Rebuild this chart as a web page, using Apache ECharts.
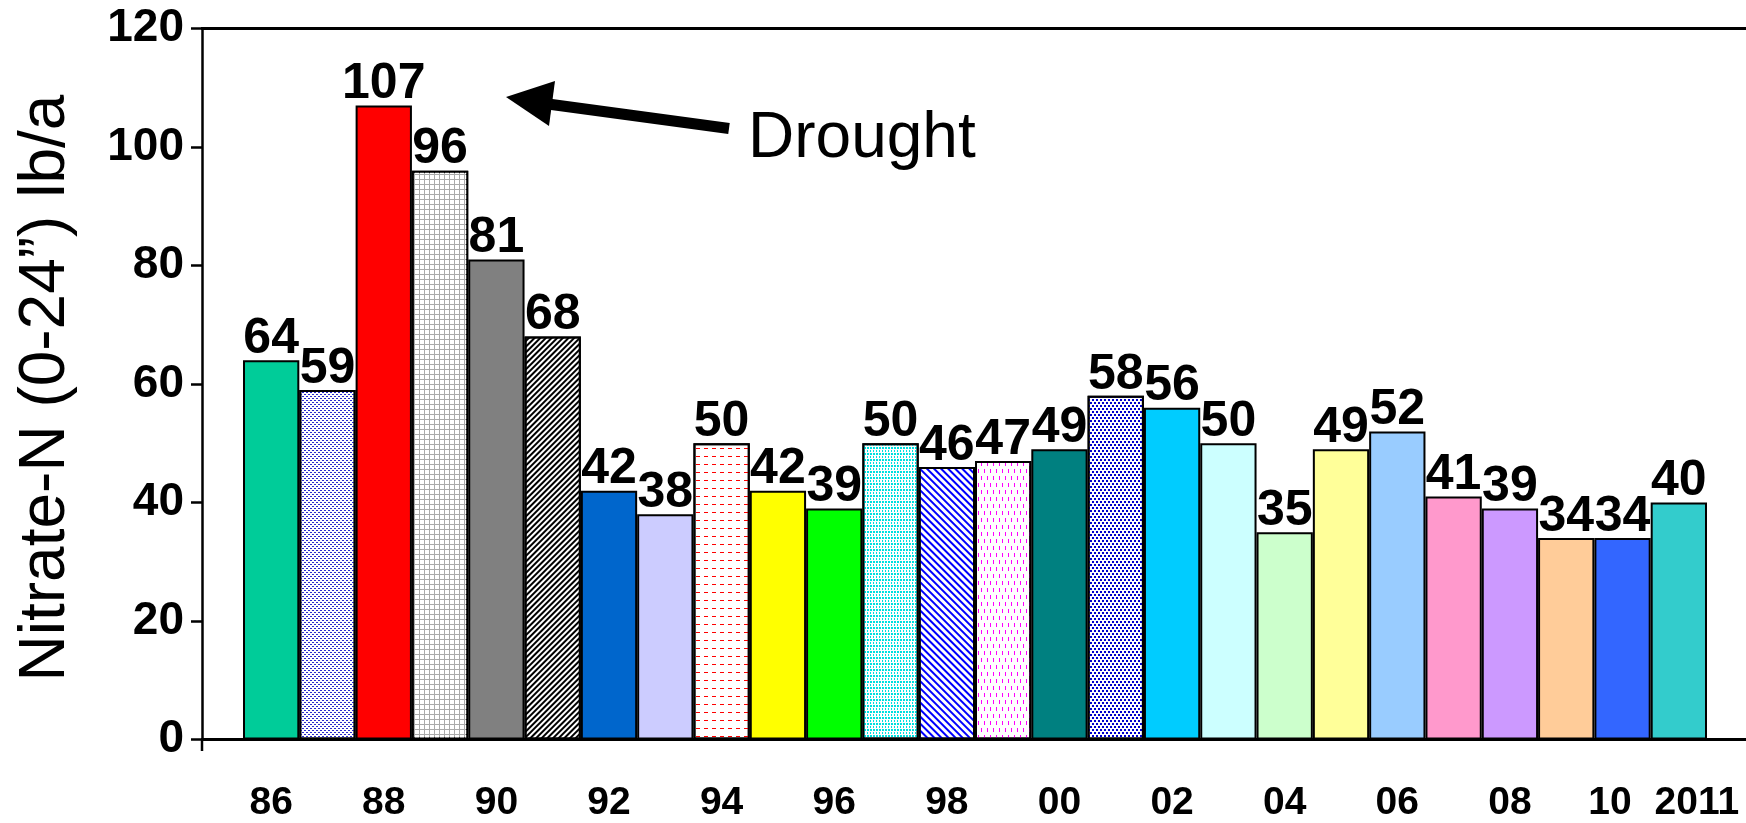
<!DOCTYPE html>
<html>
<head>
<meta charset="utf-8">
<script src="https://cdn.jsdelivr.net/npm/echarts@6/dist/echarts.min.js"></script>
<style>
html,body{margin:0;padding:0;background:#fff;}
#chart{width:1746px;height:823px;}
</style>
</head>
<body>
<div id="chart"></div>
<script>
// ---- data ----
const categories = ['86','87','88','89','90','91','92','93','94','95','96','97','98','99','00','01','02','03','04','05','06','07','08','09','10','2011'];
const values = [64,59,107,96,81,68,42,38,50,42,39,50,46,47,49,58,56,50,35,49,52,41,39,34,34,40];
const yTicks = [0,20,40,60,80,100,120];
const titleText = 'Nitrate-N (0-24\u201d) lb/a';
const noteText = 'Drought';

// ---- styles ----
const barColors = ['#00CC99','#ffffff','#FF0000','#aaaaaa','#808080','#ffffff','#0066CC','#CCCCFF',
  '#ffffff','#FFFF00','#00FF00','#ffffff','#ffffff','#ffffff','#008080','#ffffff','#00CCFF','#CCFFFF',
  '#CCFFCC','#FFFF99','#99CCFF','#FF99CC','#CC99FF','#FFCC99','#3366FF','#33CCCC'];
const barDecals = {
  1: {symbol:'rect', symbolSize:1, color:'#2a2acc', dashArrayX:[[2,2],[0,2,2,0]], dashArrayY:[1,1], rotation:0},
  3: {symbol:'rect', symbolSize:1, color:'#ffffff', dashArrayX:[4,1], dashArrayY:[4,1], rotation:0},
  5: {symbol:'rect', symbolSize:1, color:'#000000', dashArrayX:[1,0], dashArrayY:[2,2], rotation:-Math.PI/4},
  8: {symbol:'rect', symbolSize:1, color:'#ff0000', dashArrayX:[4,4], dashArrayY:[1,7], rotation:0},
  11:{symbol:'rect', symbolSize:1, color:'#00e0e0', dashArrayX:[[2,1],[1,2]], dashArrayY:[2,1], rotation:0},
  12:{symbol:'rect', symbolSize:1, color:'#0000ff', dashArrayX:[1,0], dashArrayY:[2,3], rotation:Math.PI/4},
  13:{symbol:'rect', symbolSize:1, color:'#ff00ff', dashArrayX:[[1,5],[0,3,1,2]], dashArrayY:[4,3], rotation:0},
  15:{symbol:'rect', symbolSize:1, color:'#0000cc', dashArrayX:[[2,2],[0,2,2,0]], dashArrayY:[2,1], rotation:0}
};

const FONT = '"Liberation Sans", Arial, Helvetica, sans-serif';
const chart = echarts.init(document.getElementById('chart'));

const seriesData = values.map((v, i) => {
  const it = {value: v, itemStyle: {color: barColors[i]}};
  if (barDecals[i]) it.itemStyle.decal = barDecals[i];
  return it;
});

chart.setOption({
  animation: false,
  backgroundColor: '#ffffff',
  grid: {left: 243, right: 39, top: 28.5, bottom: 83.5, containLabel: false},
  xAxis: {
    type: 'category',
    data: categories,
    axisLine: {show: false},
    axisTick: {show: false},
    axisLabel: {
      interval: function (i) { return i % 2 === 0 || i === categories.length - 1; },
      color: '#000', fontFamily: FONT, fontWeight: 'bold', fontSize: 39, margin: 44,
      formatter: function (v) {
        if (v === '10') return '{l|' + v + '}';
        if (v === '2011') return '{r|' + v + '}';
        return v;
      },
      rich: {
        l: {fontFamily: FONT, fontWeight: 'bold', fontSize: 39, color: '#000', padding: [0, 25, 0, 0]},
        r: {fontFamily: FONT, fontWeight: 'bold', fontSize: 39, color: '#000', padding: [0, 0, 0, 36]}
      }
    }
  },
  yAxis: {
    type: 'value',
    min: yTicks[0], max: yTicks[yTicks.length - 1], interval: 20,
    offset: 41,
    axisLine: {show: true, lineStyle: {color: '#000', width: 2.5}},
    axisTick: {show: true, inside: false, length: 11, lineStyle: {color: '#000', width: 2.5}},
    splitLine: {show: false},
    axisLabel: {color: '#000', fontFamily: FONT, fontWeight: 'bold', fontSize: 46, margin: 18}
  },
  series: [{
    type: 'bar',
    data: seriesData,
    barCategoryGap: 0,
    barGap: 0,
    itemStyle: {borderColor: '#000', borderWidth: 2},
    label: {
      show: true, position: 'top', distance: -4,
      color: '#000', fontFamily: FONT, fontWeight: 'bold', fontSize: 50
    }
  }],
  graphic: [
    {type: 'line', z: 100, shape: {x1: 201, y1: 739.5, x2: 1746, y2: 739.5}, style: {stroke: '#000', lineWidth: 3}},
    {type: 'line', z: 100, shape: {x1: 202, y1: 739.5, x2: 202, y2: 751}, style: {stroke: '#000', lineWidth: 2.5}},
    {type: 'line', z: 100, shape: {x1: 201, y1: 28.5, x2: 1746, y2: 28.5}, style: {stroke: '#000', lineWidth: 3}},
    {type: 'line', z: 100, shape: {x1: 548, y1: 104, x2: 729, y2: 128.5}, style: {stroke: '#000', lineWidth: 11}},
    {type: 'polygon', z: 100, shape: {points: [[506, 97], [555, 81], [549, 126]]}, style: {fill: '#000'}},
    {type: 'text', z: 100, x: 748, y: 139, style: {text: noteText, font: '64px ' + FONT, fill: '#000', align: 'left', verticalAlign: 'middle'}},
    {type: 'text', z: 100, x: 46, y: 388, rotation: Math.PI / 2, style: {text: titleText, font: '64px ' + FONT, fill: '#000', align: 'center', verticalAlign: 'middle'}}
  ]
});
</script>
</body>
</html>
